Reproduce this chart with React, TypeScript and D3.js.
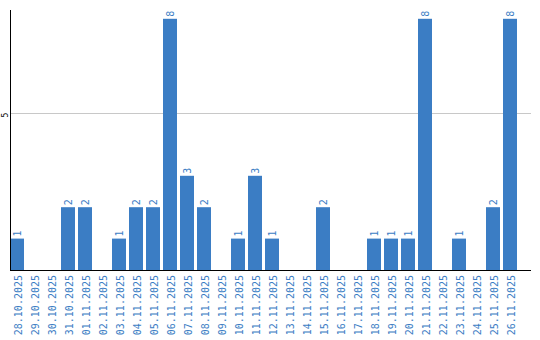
import React from "react";
import * as d3 from "d3";

const categories = [
  "28.10.2025","29.10.2025","30.10.2025","31.10.2025","01.11.2025","02.11.2025",
  "03.11.2025","04.11.2025","05.11.2025","06.11.2025","07.11.2025","08.11.2025",
  "09.11.2025","10.11.2025","11.11.2025","12.11.2025","13.11.2025","14.11.2025",
  "15.11.2025","16.11.2025","17.11.2025","18.11.2025","19.11.2025","20.11.2025",
  "21.11.2025","22.11.2025","23.11.2025","24.11.2025","25.11.2025","26.11.2025",
];
const values = [1,0,0,2,2,0,1,2,2,8,3,2,0,1,3,1,0,0,2,0,0,1,1,1,8,0,1,0,2,8];
const yTicks = [5];

const W = 540, H = 340;
const left = 10, top = 10, bottom = 270, axisRight = 531;
const blue = "#3b7dc4";
const font = "DejaVu Sans Mono";

export default function App() {
  const x = d3.scaleBand<string>().domain(categories).range([left, left + 507]).paddingInner(3 / 17).paddingOuter(0);
  const y = d3.scaleLinear().domain([0, 8.28]).range([bottom, top]);
  return (
    <svg width={W} height={H} style={{ position: "absolute", left: 0, top: 0 }}>
      <rect width={W} height={H} fill="#fff" />
      {yTicks.map((t) => (
        <g key={t}>
          <line x1={left} x2={axisRight} y1={y(t) + 0.5} y2={y(t) + 0.5} stroke="#c8c8c8" />
          <text transform={`translate(7.5,${y(t) + 2}) rotate(-90)`} textAnchor="middle" fontFamily={font} fontSize={8} fill="#000">{t}</text>
        </g>
      ))}
      {categories.map((c, i) => {
        const v = values[i];
        const bx = x(c)!;
        const cx = bx + x.bandwidth() / 2;
        return (
          <g key={c}>
            {v > 0 && (
              <>
                <rect x={bx} y={y(v)} width={x.bandwidth()} height={bottom - y(v)} fill={blue} />
                <text transform={`translate(${cx + 4},${y(v) - 2}) rotate(-90)`} fontFamily={font} fontSize={10} fill={blue}>{v}</text>
              </>
            )}
            <text transform={`translate(${cx + 4.5},${bottom + 5}) rotate(-90)`} textAnchor="end" fontFamily={font} fontSize={10} fill={blue}>{c}</text>
          </g>
        );
      })}
      <line x1={left + 0.5} x2={left + 0.5} y1={top} y2={bottom + 1} stroke="#000" />
      <line x1={left} x2={axisRight} y1={bottom + 0.5} y2={bottom + 0.5} stroke="#000" />
    </svg>
  );
}
